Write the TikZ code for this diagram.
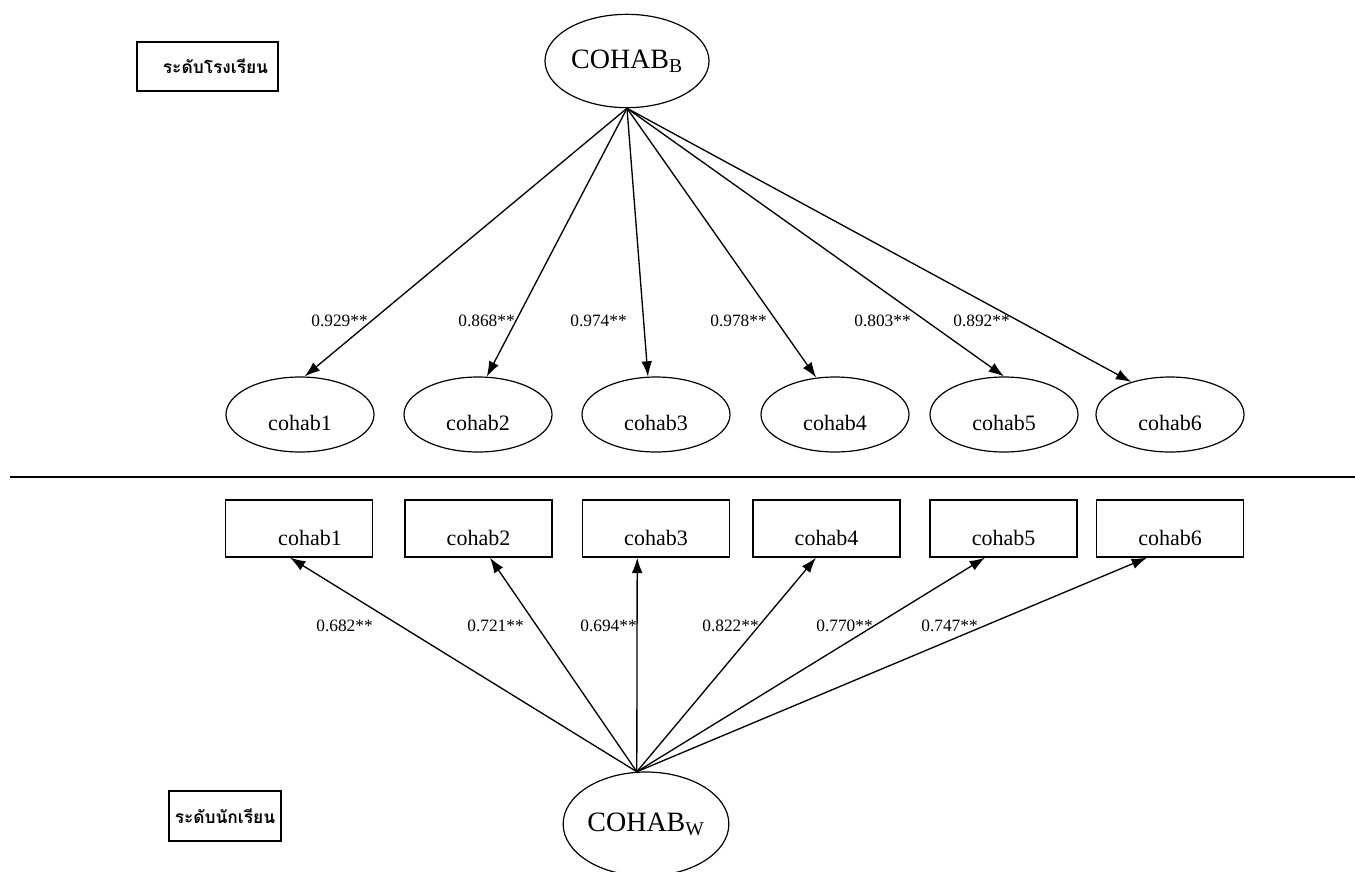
\documentclass[tikz,border=0pt]{standalone}
\usepackage{fontspec}
\setmainfont{Liberation Serif}
\newfontfamily\thaifont[Script=Thai]{Loma}
\usetikzlibrary{arrows.meta,calc,shapes.geometric}
\begin{document}
\begin{tikzpicture}[x=0.75pt,y=-0.75pt,
  lat/.style={ellipse,draw,line width=0.9pt,inner sep=0pt,minimum width=111pt,minimum height=56.25pt,
    text height=23.25pt,text depth=0pt,font=\fontsize{16.5}{18}\selectfont},
  big/.style={ellipse,draw,line width=0.9pt,inner sep=0pt,font=\fontsize{21}{24}\selectfont},
  obs/.style={rectangle,draw,line width=1pt,inner sep=0pt,minimum width=110.25pt,
    text height=33.75pt,text depth=9pt,font=\fontsize{16.5}{18}\selectfont},
  lbl/.style={anchor=east,inner sep=0pt,font=\fontsize{13}{15}\selectfont},
  lvl/.style={rectangle,draw,line width=1pt,inner sep=0pt,font=\thaifont\bfseries\fontsize{13}{16}\selectfont},
  arr/.style={line width=1pt,-{Latex[length=11.5pt,width=8pt]}},
  divider/.style={line width=1.4pt}]
\useasboundingbox (0,0) rectangle (1355,871);
% level labels
\node[lvl,minimum width=105.75pt,minimum height=36.75pt] (lvB) at (207.5,66.5) {\hspace*{12pt}ระดับโรงเรียน};
\node[lvl,minimum width=84pt,minimum height=37.5pt] (lvW) at (225,816) {ระดับนักเรียน};
% between level
\node[big,minimum width=123pt,minimum height=70pt] (B) at (627,61) {COHAB\textsubscript{B}};
\node[lat] (c1) at (300,414.5) {cohab1};
\node[lat] (c2) at (478,414.5) {cohab2};
\node[lat] (c3) at (656,414.5) {cohab3};
\node[lat] (c4) at (835,414.5) {cohab4};
\node[lat] (c5) at (1004,414.5) {cohab5};
\node[lat] (c6) at (1170,414.5) {cohab6};
\draw[arr] (B.south) -- (c1.83);
\draw[arr] (B.south) -- (c2.77);
\draw[arr] (B.south) -- (c3.102);
\draw[arr] (B.south) -- (c4.117);
\draw[arr] (B.south) -- (c5.90);
\draw[arr] (B.south) -- (c6.140);
\node[lbl] (t1) at (368,321) {0.929**};
\node[lbl] (t2) at (515,321) {0.868**};
\node[lbl] (t3) at (627,321) {0.974**};
\node[lbl] (t4) at (767,321) {0.978**};
\node[lbl] (t5) at (911,321) {0.803**};
\node[lbl] (t6) at (1010,321) {0.892**};
% divider
\coordinate (dL) at (10,477);
\coordinate (dR) at (1355,477);
\draw[divider] (dL) -- (dR);
% within level
\node[obs] (r1) at (299,528.5) {\hspace*{16.5pt}cohab1};
\node[obs] (r2) at (478.5,528.5) {cohab2};
\node[obs] (r3) at (656,528.5) {cohab3};
\node[obs] (r4) at (826.5,528.5) {cohab4};
\node[obs] (r5) at (1003.5,528.5) {cohab5};
\node[obs] (r6) at (1170,528.5) {cohab6};
\node[big,minimum width=122pt,minimum height=78pt] (W) at (646,824) {COHAB\textsubscript{W}};
\draw[arr] (W.100) -- ([xshift=-6.75pt]r1.south);
\draw[arr] (W.100) -- ([xshift=8.6pt]r2.south);
\draw[arr] (W.100) -- ([xshift=-14.1pt]r3.south);
\draw[arr] (W.100) -- ([xshift=-7.9pt]r4.south);
\draw[arr] (W.100) -- ([xshift=-13.9pt]r5.south);
\draw[arr] (W.100) -- ([xshift=-17.25pt]r6.south);
\node[lbl] (b1) at (373,626) {0.682**};
\node[lbl] (b2) at (524,626) {0.721**};
\node[lbl] (b3) at (637,626) {0.694**};
\node[lbl] (b4) at (759,626) {0.822**};
\node[lbl] (b5) at (873,626) {0.770**};
\node[lbl] (b6) at (978,626) {0.747**};
\end{tikzpicture}
\end{document}
